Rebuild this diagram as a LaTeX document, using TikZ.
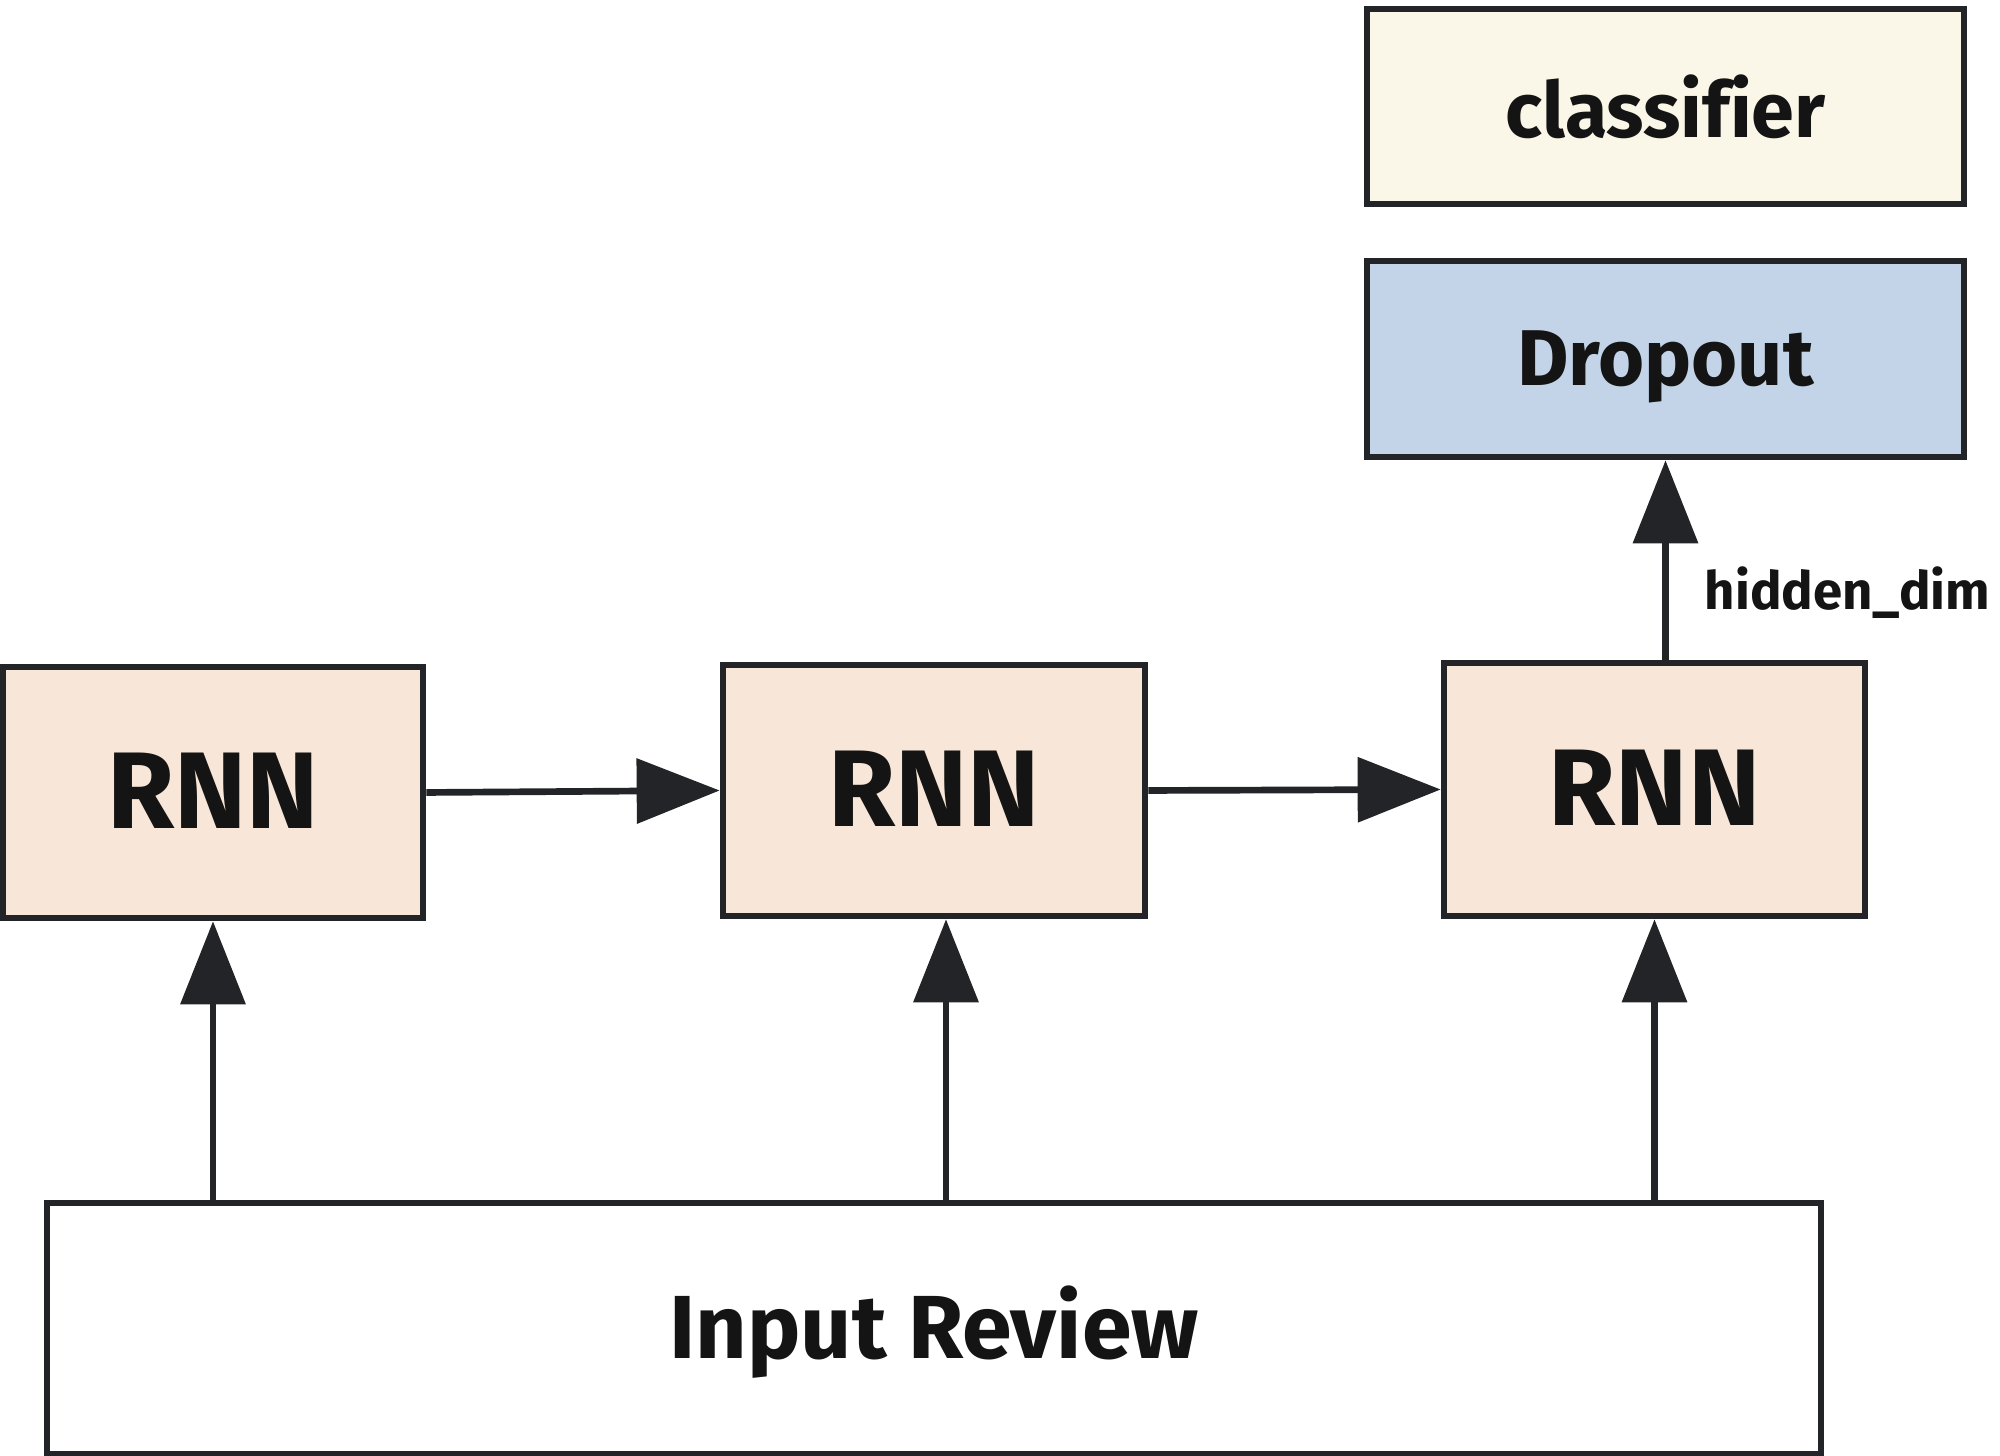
\documentclass[tikz,border=0pt]{standalone}
\usepackage{fontspec}
\setmainfont[Ligatures=NoCommon]{Fira Sans}
\usetikzlibrary{arrows.meta}
\definecolor{linec}{HTML}{232428}
\definecolor{rnnfill}{HTML}{F8E7D9}
\definecolor{clsfill}{HTML}{FBF7E8}
\definecolor{dpfill}{HTML}{C3D4E8}
\tikzset{
  blk/.style={draw=linec, line width=1.9pt, inner sep=0pt, align=center, text=black!92},
  arr/.style={draw=linec, line width=1.9pt, -{Triangle[length=0.83cm,width=0.64cm]}},
}
\begin{document}
\begin{tikzpicture}
\useasboundingbox (0,0) rectangle (20,14.56);
\node[blk, fill=clsfill, minimum width=5.97cm, minimum height=1.95cm, font=\fontsize{22}{24}\selectfont\bfseries] (cls) at (16.655,13.495) {classifier};
\node[blk, fill=dpfill, minimum width=5.97cm, minimum height=1.96cm, font=\fontsize{22.5}{25}\selectfont\bfseries, text height=15pt, text depth=0pt] (dp) at (16.655,10.97) {Dropout};
\node[blk, fill=rnnfill, minimum width=4.20cm, minimum height=2.51cm, font=\fontsize{31}{34}\selectfont\bfseries, text height=20.5pt, text depth=0pt] (r1) at (2.13,6.635) {RNN};
\node[blk, fill=rnnfill, minimum width=4.22cm, minimum height=2.51cm, font=\fontsize{31}{34}\selectfont\bfseries, text height=20.5pt, text depth=0pt] (r2) at (9.34,6.655) {RNN};
\node[blk, fill=rnnfill, minimum width=4.21cm, minimum height=2.53cm, font=\fontsize{31}{34}\selectfont\bfseries, text height=20.5pt, text depth=0pt] (r3) at (16.545,6.665) {RNN};
\node[blk, fill=white, minimum width=17.74cm, minimum height=2.51cm, font=\fontsize{25.5}{28}\selectfont\bfseries, text height=17pt, text depth=0pt] (in) at (9.34,1.275) {Input Review};
\draw[arr] (r1.east) -- (r2.west);
\draw[arr] (r2.east) -- (r3.west);
\draw[arr] (r1.south |- in.north) -- (r1.south);
\draw[arr] ([xshift=0.12cm]r2.south |- in.north) -- ([xshift=0.12cm]r2.south);
\draw[arr] (r3.south |- in.north) -- (r3.south);
\draw[arr] (dp.south |- r3.north) -- (dp.south);
\node[anchor=west, inner sep=0pt, font=\fontsize{15}{17}\selectfont\bfseries, text=black!92] (hd) at (17.04,8.63) {hidden\_dim};
\end{tikzpicture}
\end{document}
